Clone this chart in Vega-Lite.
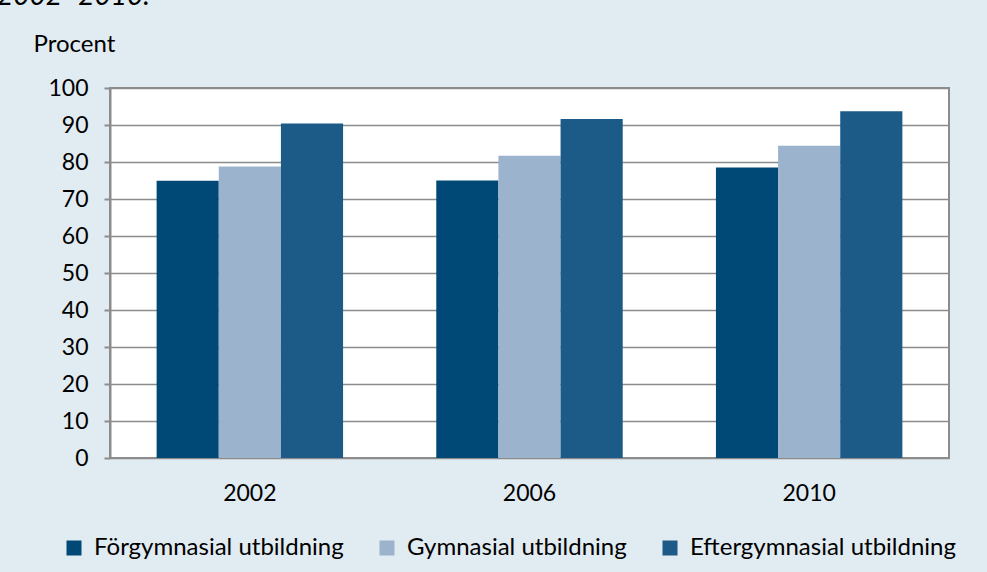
{
  "$schema": "https://vega.github.io/schema/vega-lite/v6.json",
  "autosize": "none",
  "width": 839,
  "height": 370,
  "padding": {"left": 110, "top": 88, "right": 38, "bottom": 114},
  "background": "#e1ebf2",
  "config": {
    "font": "Lato",
    "view": {"fill": "white", "stroke": "#8c8c8c", "strokeWidth": 2}
  },
  "title": {
    "text": "2002–2010.", "anchor": "start", "frame": "group", "orient": "top",
    "dx": -113, "offset": 14, "dy": 15, "baseline": "alphabetic",
    "fontSize": 28, "fontStyle": "italic", "fontWeight": "normal", "color": "#000000"
  },
  "data": {
    "values": [
      {"year": "2002", "Utbildning": "Förgymnasial utbildning", "value": 74.9},
      {"year": "2002", "Utbildning": "Gymnasial utbildning", "value": 78.8},
      {"year": "2002", "Utbildning": "Eftergymnasial utbildning", "value": 90.4},
      {"year": "2006", "Utbildning": "Förgymnasial utbildning", "value": 75.0},
      {"year": "2006", "Utbildning": "Gymnasial utbildning", "value": 81.7},
      {"year": "2006", "Utbildning": "Eftergymnasial utbildning", "value": 91.6},
      {"year": "2010", "Utbildning": "Förgymnasial utbildning", "value": 78.5},
      {"year": "2010", "Utbildning": "Gymnasial utbildning", "value": 84.4},
      {"year": "2010", "Utbildning": "Eftergymnasial utbildning", "value": 93.7}
    ]
  },
  "mark": {"type": "bar"},
  "encoding": {
    "x": {
      "field": "year", "type": "nominal",
      "scale": {"paddingInner": 0.3333, "paddingOuter": 0.1667},
      "axis": {"title": null, "labelAngle": 0, "ticks": false, "domain": false, "grid": false,
               "labelFontSize": 23, "labelColor": "#000000", "labelPadding": 24}
    },
    "xOffset": {
      "field": "Utbildning", "type": "nominal",
      "sort": ["Förgymnasial utbildning", "Gymnasial utbildning", "Eftergymnasial utbildning"],
      "scale": {"paddingInner": 0, "paddingOuter": 0}
    },
    "y": {
      "field": "value", "type": "quantitative",
      "scale": {"domain": [0, 100], "nice": false},
      "axis": {
        "values": [0, 10, 20, 30, 40, 50, 60, 70, 80, 90, 100],
        "title": "Procent", "titleAngle": 0, "titleAlign": "left", "titleBaseline": "middle",
        "titleX": -77, "titleY": -44, "titleFontSize": 24, "titleFontWeight": "normal", "titleColor": "#000000",
        "labelFontSize": 23, "labelColor": "#000000", "labelPadding": 16,
        "tickSize": 6, "tickColor": "#8c8c8c", "tickWidth": 2,
        "domainColor": "#8c8c8c", "domainWidth": 2,
        "gridColor": "#8c8c8c", "gridWidth": 1.5
      }
    },
    "color": {
      "field": "Utbildning", "type": "nominal",
      "sort": ["Förgymnasial utbildning", "Gymnasial utbildning", "Eftergymnasial utbildning"],
      "scale": {
        "domain": ["Förgymnasial utbildning", "Gymnasial utbildning", "Eftergymnasial utbildning"],
        "range": ["#004876", "#9bb3cd", "#1c5a87"]
      },
      "legend": {
        "title": null, "orient": "none", "direction": "horizontal",
        "legendX": -48, "legendY": 448,
        "symbolType": "square", "symbolSize": 225, "symbolStrokeWidth": 0,
        "labelFontSize": 24, "labelColor": "#000000", "labelOffset": 8, "columnPadding": 31,
        "labelLimit": 0
      }
    }
  }
}
